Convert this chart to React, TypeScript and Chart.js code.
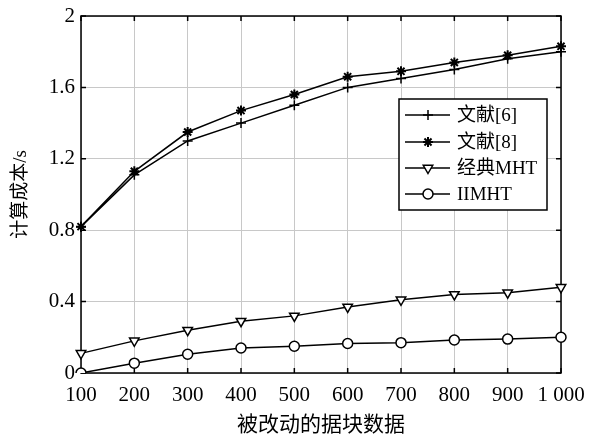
import React, { useEffect, useRef } from 'react';
import { Chart, registerables } from 'chart.js';

Chart.register(...registerables);

const categories = ['100', '200', '300', '400', '500', '600', '700', '800', '900', '1 000'];
const wen6 = [0.82, 1.11, 1.3, 1.4, 1.5, 1.6, 1.65, 1.7, 1.76, 1.8];
const wen8 = [0.82, 1.13, 1.35, 1.47, 1.56, 1.66, 1.69, 1.74, 1.78, 1.83];
const classicMHT = [0.11, 0.18, 0.24, 0.29, 0.32, 0.37, 0.41, 0.44, 0.45, 0.48];
const iimht = [0.0, 0.055, 0.105, 0.14, 0.15, 0.165, 0.17, 0.185, 0.19, 0.2];
const seriesNames = ['文献[6]', '文献[8]', '经典MHT', 'IIMHT'];
const yTicks = [0, 0.4, 0.8, 1.2, 1.6, 2];
const xTitle = '被改动的据块数据';
const yTitle = '计算成本/s';

const LATIN = '"Liberation Serif", "Noto Sans CJK SC", serif';

function drawMarker(ctx: CanvasRenderingContext2D, style: string, x: number, y: number) {
  ctx.save();
  ctx.strokeStyle = '#000';
  ctx.fillStyle = '#fff';
  ctx.lineWidth = 1.5;
  ctx.beginPath();
  if (style === 'cross') {
    ctx.moveTo(x - 5, y); ctx.lineTo(x + 5, y);
    ctx.moveTo(x, y - 5); ctx.lineTo(x, y + 5);
    ctx.stroke();
  } else if (style === 'star') {
    ctx.lineWidth = 2;
    const r = 5;
    const d = r * Math.SQRT1_2;
    ctx.moveTo(x - r, y); ctx.lineTo(x + r, y);
    ctx.moveTo(x, y - r); ctx.lineTo(x, y + r);
    ctx.moveTo(x - d, y - d); ctx.lineTo(x + d, y + d);
    ctx.moveTo(x - d, y + d); ctx.lineTo(x + d, y - d);
    ctx.stroke();
  } else if (style === 'triangle') {
    const r = 5.5;
    ctx.moveTo(x, y + r);
    ctx.lineTo(x + r * 0.866, y - r * 0.5);
    ctx.lineTo(x - r * 0.866, y - r * 0.5);
    ctx.closePath();
    ctx.fill();
    ctx.stroke();
  } else {
    ctx.arc(x, y, 5, 0, Math.PI * 2);
    ctx.fill();
    ctx.stroke();
  }
  ctx.restore();
}

const markerStyles = ['cross', 'star', 'triangle', 'circle'];

const framePlugin = {
  id: 'frame',
  beforeDatasetsDraw(chart: any) {
    const { ctx, chartArea: a, scales } = chart;
    ctx.save();
    ctx.strokeStyle = '#000';
    ctx.lineWidth = 1.5;
    const t = 5;
    ctx.beginPath();
    scales.x.ticks.forEach((_: any, i: number) => {
      const px = scales.x.getPixelForTick(i);
      ctx.moveTo(px, a.bottom); ctx.lineTo(px, a.bottom - t);
      ctx.moveTo(px, a.top); ctx.lineTo(px, a.top + t);
    });
    scales.y.ticks.forEach((_: any, i: number) => {
      const py = scales.y.getPixelForTick(i);
      ctx.moveTo(a.left, py); ctx.lineTo(a.left + t, py);
      ctx.moveTo(a.right, py); ctx.lineTo(a.right - t, py);
    });
    ctx.stroke();
    ctx.strokeRect(a.left, a.top, a.right - a.left, a.bottom - a.top);
    ctx.restore();
  },
  afterDraw(chart: any) {
    const { ctx, chartArea: a } = chart;
    ctx.save();
    // axis titles
    ctx.fillStyle = '#000';
    ctx.font = `21px ${LATIN}`;
    ctx.textAlign = 'center';
    ctx.textBaseline = 'middle';
    ctx.fillText(xTitle, (a.left + a.right) / 2, 425);
    ctx.save();
    ctx.translate(21, (a.top + a.bottom) / 2);
    ctx.rotate(-Math.PI / 2);
    ctx.font = `19px ${LATIN}`;
    ctx.fillText(yTitle, 0, 0);
    ctx.restore();
    // legend
    const lx = 399, ly = 99, lw = 148, lh = 111;
    ctx.fillStyle = '#fff';
    ctx.fillRect(lx, ly, lw, lh);
    ctx.strokeStyle = '#000';
    ctx.lineWidth = 1.5;
    ctx.strokeRect(lx, ly, lw, lh);
    const rows = [115, 142, 168, 194];
    ctx.font = `19px ${LATIN}`;
    ctx.textAlign = 'left';
    ctx.textBaseline = 'middle';
    seriesNames.forEach((name, i) => {
      const y = rows[i];
      ctx.beginPath();
      ctx.strokeStyle = '#000';
      ctx.lineWidth = 1.5;
      ctx.moveTo(405, y); ctx.lineTo(450, y);
      ctx.stroke();
      drawMarker(ctx, markerStyles[i], 428, y);
      ctx.fillStyle = '#000';
      ctx.fillText(name, 457, y + 1);
    });
    ctx.restore();
  },
};

export default function App() {
  const ref = useRef<HTMLCanvasElement | null>(null);
  useEffect(() => {
    if (!ref.current) return;
    const mk = (label: string, data: number[], style: string, extra: any = {}) => ({
      label,
      data,
      borderColor: '#000',
      borderWidth: 1.5,
      backgroundColor: '#fff',
      pointStyle: style,
      pointRadius: 5,
      pointBorderColor: '#000',
      pointBackgroundColor: '#fff',
      pointBorderWidth: 1.5,
      tension: 0,
      ...extra,
    });
    const chart = new Chart(ref.current, {
      type: 'line',
      data: {
        labels: categories,
        datasets: [
          mk(seriesNames[0], wen6, 'cross'),
          mk(seriesNames[1], wen8, 'star', { pointBorderWidth: 2 }),
          mk(seriesNames[2], classicMHT, 'triangle', { pointRotation: 180, pointRadius: 5.5 }),
          mk(seriesNames[3], iimht, 'circle'),
        ],
      },
      options: {
        animation: false,
        responsive: false,
        devicePixelRatio: 1,
        layout: { padding: { left: 0, right: 32, top: 16, bottom: 0 } },
        plugins: { legend: { display: false }, tooltip: { enabled: false } },
        scales: {
          x: {
            type: 'category',
            offset: false,
            grid: { color: '#c8c8c8', lineWidth: 1, drawTicks: false },
            border: { display: false },
            ticks: { color: '#000', font: { family: LATIN, size: 21 }, padding: 10, maxRotation: 0, autoSkip: false },
            afterFit: (s: any) => { s.height = 63; s.paddingLeft = 0; s.paddingRight = 0; },
          },
          y: {
            type: 'linear',
            min: 0,
            max: 2,
            afterBuildTicks: (s: any) => { s.ticks = yTicks.map((v) => ({ value: v })); },
            grid: { color: '#c8c8c8', lineWidth: 1, drawTicks: false },
            border: { display: false },
            ticks: {
              color: '#000',
              font: { family: LATIN, size: 21 },
              padding: 6,
              callback: (v: any) => String(Number(Number(v).toFixed(1))),
            },
            afterFit: (s: any) => { s.width = 81; s.paddingTop = 0; s.paddingBottom = 0; },
          },
        },
      },
      plugins: [framePlugin],
    } as any);
    return () => chart.destroy();
  }, []);
  return (
    <div style={{ position: 'absolute', left: 0, top: 0, width: 593, height: 436, background: '#fff' }}>
      <canvas ref={ref} width={593} height={436} style={{ display: 'block' }} />
    </div>
  );
}
